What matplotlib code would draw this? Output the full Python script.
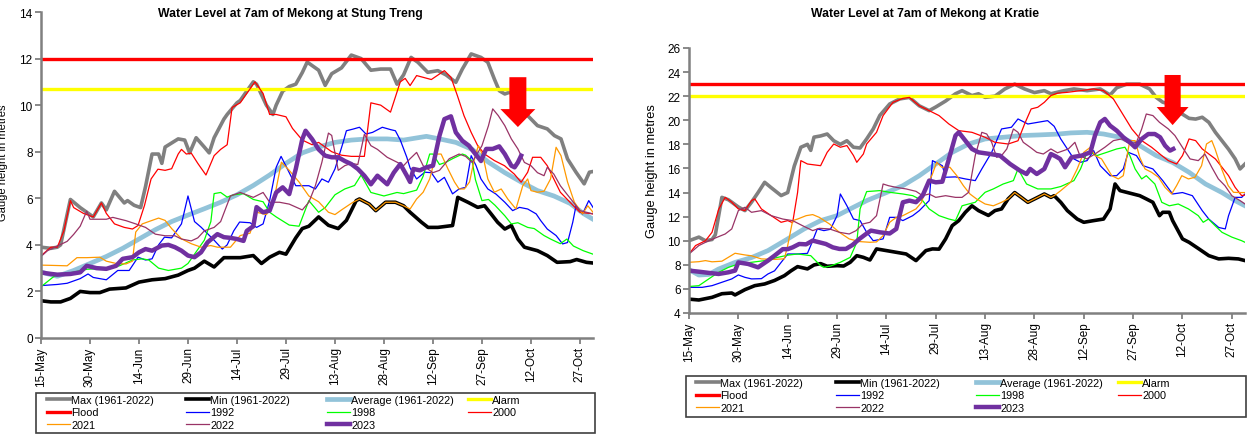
import numpy as np
import matplotlib
matplotlib.use('Agg')
import matplotlib.pyplot as plt
from matplotlib.patches import FancyArrow, Rectangle

plt.rcParams['font.family'] = ['Liberation Sans Narrow', 'Liberation Sans', 'DejaVu Sans']

# x axis: days after 15 May
tick_labels = ['15-May', '30-May', '14-Jun', '29-Jun', '14-Jul', '29-Jul',
               '13-Aug', '28-Aug', '12-Sep', '27-Sep', '12-Oct', '27-Oct']

# ---------------- Stung Treng (day, level) ----------------
st_flood = 12.0
st_alarm = 10.7
st_max = [(0,3.9),(3,3.85),(5,3.9),(6,4.0),(9,5.95),(12,5.6),(16,5.2),(18.5,5.8),(20,5.5),(22.5,6.3),
          (25.5,5.8),(26.5,5.9),(28.5,5.7),(30.5,5.6),(32,6.5),(34,7.9),(36,7.9),(37,7.5),(38,8.2),(42,8.55),
          (44,8.5),(45.5,7.95),(47.5,8.6),(50,8.2),(51.5,7.95),(53,8.6),(56,9.4),(57,9.6),(60,10.1),(61,10.2),
          (63,10.6),(65,11.0),(66,10.9),(69,10.0),(71,9.6),(72,10.0),(74,10.6),(76,10.8),(78,10.9),(80,11.4),
          (81.5,11.85),(83,11.7),(85,11.5),(87,10.85),(89,11.35),(92,11.6),(95,12.15),(98,12.0),(101,11.5),
          (104,11.55),(107,11.55),(109,10.9),(111,11.3),(113.3,12.05),(115.4,11.84),(118.4,11.41),(121.5,11.48),
          (124,11.3),(127,10.98),(129,11.55),(131.7,12.2),(134.7,12.05),(136.8,11.84),(138.8,11.12),(140.3,10.62),
          (142,10.48),(143.4,10.55),(146,10.4),(149,9.55),(152,9.12),(155,8.98),(157.2,8.69),(159.2,8.55),
          (161.2,7.69),(163.8,7.12),(166.3,6.62),(167.9,7.12),(169,7.15)]
st_min = [(0,1.6),(3,1.55),(6,1.55),(9,1.7),(12,2.0),(15,1.95),(18,1.95),(21,2.1),(26,2.15),(30,2.4),
          (34,2.5),(38,2.55),(42,2.7),(45,2.9),(47,3.0),(50,3.3),(53,3.05),(56,3.45),(61,3.45),(65,3.54),
          (67.5,3.2),(70,3.47),(73,3.68),(75,3.6),(78,4.3),(80,4.7),(82,4.8),(85,5.2),(88,4.84),(91,4.7),
          (93.5,5.05),(96.5,5.9),(97.5,5.97),(100.5,5.75),(102.5,5.47),(105.5,5.83),(108.5,5.83),(111,5.68),
          (113,5.4),(116.5,4.97),(118.5,4.75),(121.5,4.75),(126,4.83),(127.6,6.04),(130.7,5.83),(133.7,5.61),
          (135.8,5.68),(137.8,5.33),(139.8,4.97),(142,4.68),(144,4.83),(146,4.25),(148,3.9),(152,3.75),
          (155,3.54),(158,3.25),(162,3.28),(164,3.37),(167,3.25),(169,3.22)]
st_avg = [(0,2.83),(5,2.65),(10,2.9),(15,3.2),(20,3.5),(25,3.85),(30,4.25),(35,4.65),(40,5.0),(45,5.28),
          (50,5.55),(55,5.83),(60,6.15),(65,6.55),(70,7.0),(75,7.5),(80,7.95),(85,8.2),(90,8.4),(95,8.5),
          (100,8.55),(106,8.55),(111,8.5),(118,8.66),(122,8.55),(127,8.4),(132,8.1),(137,7.55),(142,7.1),
          (147,6.7),(152,6.33),(157,6.1),(162,5.78),(166,5.35),(169,5.1)]
st_1992 = [(0,2.25),(5,2.3),(8,2.35),(12,2.55),(14.4,2.75),(16,2.6),(20,2.5),(23.5,2.9),(27,2.9),(29.7,3.47),
           (32,3.35),(34,3.4),(36,4.0),(37.8,4.33),(40,4.3),(43,4.9),(45,6.1),(47,5.0),(49,4.76),(53,4.2),
           (55.5,3.82),(57,4.0),(59,4.6),(60.8,4.98),(64,4.95),(66,4.75),(68,4.9),(70,5.9),(72,7.33),(73.5,7.8),
           (76,7.1),(78,6.54),(82,6.54),(84,6.4),(86,6.83),(88,6.69),(90,7.26),(92.5,8.4),(93.5,8.9),(95.5,8.97),
           (97.5,9.05),(99.5,8.76),(101.5,8.83),(104.5,9.05),(107,8.95),(108.5,8.9),(110,8.5),(112,7.76),(113,7.3),
           (115,6.83),(117.5,7.12),(119.5,7.1),(121.5,6.69),(123.5,6.9),(126,6.19),(128,6.4),(130,6.47),
           (131.7,7.83),(133.2,7.4),(134.7,6.83),(136.8,6.4),(139.3,6.18),(142,5.83),(144.4,5.47),(146.5,5.61),
           (149,5.54),(151.6,5.33),(153,5.04),(155,4.68),(157.7,4.4),(159.7,4.04),(161.2,4.1),(162.8,4.97),
           (163.8,5.68),(165.8,5.33),(167.7,5.9),(169,5.61)]
st_1998 = [(0,2.2),(4,2.65),(9,2.8),(14,2.95),(20,3.0),(24,3.1),(28,3.35),(31,3.4),(33,3.35),(36,3.0),
           (39,2.9),(43,3.0),(45,3.2),(47,3.6),(50,4.2),(52,5.0),(53,6.2),(55,6.25),(57,6.05),(59,6.15),
           (62,6.2),(65,5.95),(68,5.85),(70,5.4),(72,5.2),(76,4.85),(79,4.8),(82,5.9),(85,5.4),(87,5.6),
           (90,6.15),(93,6.4),(96,6.55),(98,7.0),(101,6.25),(105,6.1),(109,6.25),(111,6.2),(115,6.35),
           (117,6.95),(119,7.9),(120,7.9),(122,7.45),(124,7.55),(126,7.7),(129,7.9),(130,7.85),(132,7.6),
           (133,6.8),(135,5.9),(137,5.95),(139,5.7),(142,5.25),(144,4.9),(146,4.95),(149,4.75),(151,4.7),
           (154,4.4),(156,4.25),(159,4.05),(161,4.25),(163,3.95),(166,3.75),(169,3.6)]
st_2000 = [(0,3.53),(3,3.9),(5,3.9),(7,4.6),(9,5.9),(10,5.6),(13,5.35),(16,5.2),(18.5,5.8),(20,5.35),
           (22.5,4.9),(25.5,4.75),(28,4.68),(29.7,4.83),(31.7,5.7),(33.7,6.83),(35.8,7.25),(38,7.2),(40,7.27),
           (42,7.9),(43,8.1),(44.5,7.9),(46,7.94),(48,7.5),(50.5,7.0),(53,7.83),(55,8.1),(57,8.3),(58.5,9.9),
           (61,10.1),(64,10.7),(65.5,11.0),(68,10.5),(70,9.6),(72,9.6),(75,9.5),(77,9.0),(80,8.5),(83,8.3),
           (85,8.4),(89,8.0),(92,7.85),(95,7.8),(99,7.8),(101,10.1),(104,10.0),(107,9.7),(110,11.0),
           (111.5,11.15),(113,10.84),(115,11.27),(119.5,11.1),(123.5,11.48),(125.5,11.2),(127.5,10.4),
           (129.5,9.55),(131.7,8.83),(133.7,8.26),(135.8,7.9),(138.8,7.62),(141.9,7.4),(144.9,7.04),(147,6.69),
           (149,7.12),(150.5,7.76),(153,7.76),(155,7.4),(157,6.83),(159,6.26),(161,5.97),(163,5.68),(165,5.4),
           (169,5.33)]
st_2021 = [(0,3.13),(3,3.12),(8,3.1),(11,3.45),(14,3.45),(18,3.47),(20,3.3),(23,3.2),(26,3.18),(28,3.3),
           (29,4.55),(31,4.9),(34,5.05),(36,5.15),(38,5.05),(40,4.7),(43,4.26),(46,4.05),(49,3.9),(52,3.97),
           (54,3.9),(58,3.9),(61,4.4),(64,4.5),(66,5.4),(69,5.3),(71,5.7),(73.6,7.55),(76,7.2),(79,6.7),
           (82,6.1),(85,5.85),(88,5.4),(90,5.3),(92,5.5),(95.5,5.83),(97.5,5.97),(100.5,5.75),(102.5,5.47),
           (105.5,5.83),(108.5,5.83),(111,5.68),(113,5.54),(115,5.97),(117,6.26),(119,6.83),(121,7.9),
           (122.5,7.9),(124.6,7.26),(126.6,6.7),(128,6.4),(129.6,6.4),(131.2,6.7),(132.7,7.7),(133.9,8.26),
           (135.3,7.83),(136.8,6.83),(138.8,6.26),(140.9,6.4),(142.9,5.97),(145.4,5.54),(147.5,6.54),(149,6.83),
           (150,6.33),(152,6.26),(154,6.3),(156,6.83),(157.7,8.19),(159.2,7.83),(161.2,6.7),(163.3,5.83),
           (165.8,5.33),(167.4,5.68),(169,5.4)]
st_2022 = [(0,3.5),(2,3.75),(5,3.95),(8,4.15),(10,4.45),(12,4.8),(14,5.45),(15,5.1),(20,5.1),(22,5.18),
           (26,5.04),(29,4.9),(32,4.75),(35,4.46),(38,4.39),(41,4.39),(43,4.25),(46,4.17),(48,4.3),(50,4.6),
           (53,4.75),(55,5.0),(58,6.1),(61,6.25),(65,6.04),(68,6.25),(70,5.83),(73,5.83),(76,5.75),(80,5.5),
           (82,5.83),(84,6.54),(86,7.55),(88,8.8),(89,8.7),(91,7.2),(93,7.4),(95,7.5),(97,7.45),(99,8.75),
           (101,8.26),(103,8.1),(106,7.76),(109,7.55),(111,7.4),(113,7.7),(115,7.97),(117,7.4),(120,7.1),
           (122,7.2),(125,7.7),(128,7.9),(130,7.8),(132,7.54),(135,8.26),(137,9.12),(138.3,9.84),(140,9.55),
           (142,9.12),(144,8.55),(146,8.12),(148,7.54),(150,7.4),(152,7.1),(154,6.97),(155,7.33),(157,7.04),
           (159,6.54),(161,6.18),(163,5.83),(165,5.47),(167,5.4),(169,5.33)]
st_2023 = [(0,2.82),(2,2.77),(5,2.72),(9,2.75),(12,2.82),(14,3.1),(17,3.0),(20,2.97),(23,3.1),(25,3.4),
           (28,3.47),(30,3.68),(32,3.82),(34,3.75),(37,3.97),(39,4.0),(41,3.9),(43,3.75),(45,3.54),(47,3.47),
           (49,3.68),(51,4.11),(54,4.46),(56,4.33),(58,4.3),(60,4.25),(62,4.17),(63,4.6),(65,4.8),(66,5.62),
           (68,5.4),(70,5.47),(72,6.25),(74,6.47),(76,6.18),(78,7.26),(80,8.54),(81,8.9),(83,8.54),(85,8.1),
           (87,7.83),(89,7.76),(91,7.76),(93,7.6),(95,7.47),(97,7.26),(99,6.97),(101,6.6),(103,6.97),(106,6.6),
           (108,7.1),(110,7.47),(112,6.97),(113,6.7),(114,7.26),(116,7.2),(118,7.33),(120,7.4),(122,8.69),
           (123.5,9.4),(125.5,9.52),(127,8.83),(129,8.47),(131,8.26),(133,7.9),(134.7,7.6),(136.3,8.12),
           (138.3,8.12),(140.3,8.23),(142,7.9),(144,7.4),(145,7.33),(146,7.54),(147,7.83)]

# ---------------- Kratie (day, level) ----------------
kr_flood = 23.0
kr_alarm = 22.0
kr_max = [(0,10.0),(3,10.3),(5,10.0),(7,10.1),(8,10.5),(10,13.6),(12,13.4),(15,12.8),(17,12.5),(19,13.2),
          (21,14.0),(23,14.85),(25,14.4),(28,13.75),(30,14.0),(32,16.2),(34,17.76),(36,18.0),(37,17.5),(38,18.6),
          (40,18.7),(42,18.86),(44,18.3),(46,18.0),(48,18.3),(50,17.76),(52,17.7),(54,18.45),(56,19.28),(58,20.4),
          (61,21.35),(64,21.77),(67,21.9),(70,21.2),(73,20.8),(75,21.1),(78,21.6),(81,22.2),(83,22.46),(86,22.05),
          (88,22.2),(90,21.9),(93,22.0),(96,22.6),(99,23.0),(102,22.6),(105,22.3),(108,22.46),(110,22.2),
          (114,22.46),(117,22.6),(121,22.46),(125,22.6),(128,22.1),(130,22.7),(133,23.0),(137,23.0),(140,22.6),
          (142,21.9),(144,21.5),(146,21.35),(148,20.9),(150,20.5),(152,20.16),(154,20.1),(156,20.25),(158,19.83),
          (160,19.0),(162,18.3),(164,17.6),(166,16.8),(167.5,15.96),(169,16.37)]
kr_min = [(0,5.15),(3,5.08),(7,5.3),(10,5.6),(13,5.66),(14,5.5),(17,5.94),(20,6.27),(23,6.41),(26,6.7),
          (29,7.1),(31,7.5),(33,7.85),(36,7.66),(38,7.99),(40,8.1),(42,7.88),(45,7.93),(47,7.9),(49,8.21),
          (51,8.76),(53,8.62),(55,8.4),(57,9.32),(60,9.18),(63,9.04),(66,8.9),(69,8.35),(72,9.18),(74,9.32),
          (76,9.3),(78,10.15),(80,11.25),(82,11.67),(84,12.36),(86,12.9),(88,12.5),(91,12.1),(93,12.5),(95,12.64),
          (97,13.47),(99,14.0),(101,13.6),(103,13.19),(106,13.6),(108,13.88),(110,13.6),(111,13.74),(113,13.19),
          (115,12.5),(118,11.8),(120,11.53),(123,11.67),(126,11.8),(128,12.64),(129.5,14.71),(131,14.16),
          (135,13.88),(137,13.74),(139,13.47),(141,13.19),(143,12.08),(144,12.36),(146,12.36),(147,11.67),
          (150,10.15),(152,9.87),(155,9.32),(158,8.76),(161,8.49),(164,8.54),(167,8.49),(169,8.35)]
kr_avg = [(0,7.6),(3,7.15),(6,7.2),(9,7.65),(14,8.2),(19,8.6),(24,9.18),(30,10.15),(35,10.98),(40,11.67),
          (45,12.08),(50,12.78),(54,13.33),(60,14.0),(65,14.57),(70,15.4),(75,16.37),(80,17.34),(85,18.03),
          (90,18.45),(96,18.6),(101,18.73),(106,18.78),(112,18.85),(116,18.95),(121,19.0),(126,18.86),
          (131,18.59),(137,17.9),(142,17.07),(147,16.5),(152,15.68),(157,14.71),(162,14.0),(166,13.33),(169,12.9)]
kr_1992 = [(0,6.13),(4,6.13),(7,6.27),(10,6.55),(13,6.83),(15,7.16),(17,6.96),(19,6.83),(22,6.85),(24,7.24),
           (26,7.5),(28,8.2),(30,8.9),(33,8.9),(36,8.95),(37,9.6),(39,10.98),(41,10.84),(43,10.95),(45,12.08),
           (46,13.88),(48,12.9),(50,11.8),(52,11.67),(54,10.7),(56,10.0),(59,10.15),(61,11.94),(63,11.94),
           (65,11.67),(68,12.08),(70,12.5),(73,13.33),(74,16.65),(75,16.51),(77,16.23),(78,15.27),(81,15.3),
           (84,15.13),(87,14.99),(89,15.96),(92,17.34),(95,19.28),(98,19.42),(100,20.11),(103,19.69),(106,19.83),
           (109,19.97),(111,19.5),(113,18.45),(115,17.62),(117,16.79),(119,16.51),(121,16.65),(123,17.48),
           (125,16.23),(128,15.4),(130,15.4),(132,15.96),(133.5,17.34),(136,17.07),(138,16.23),(141,15.96),
           (144,14.99),(147,13.88),(150,14.0),(153,13.74),(156,12.5),(158,11.8),(161,11.1),(163,10.98),
           (164,12.08),(166,13.6),(168,13.6),(169,13.88)]
kr_1998 = [(0,6.2),(3,6.27),(6,6.83),(9,7.38),(12,7.79),(15,8.07),(19,8.21),(23,8.35),(27,8.62),(30,8.8),
           (33,8.9),(37,8.76),(40,7.93),(41,7.79),(43,7.9),(46,8.21),(49,8.62),(51,9.87),(52,12.64),(54,14.08),
           (58,14.16),(61,14.02),(65,13.88),(68,13.74),(71,13.33),(73,12.64),(76,12.08),(79,11.8),(81,11.67),
           (83,12.9),(85,13.05),(87,13.19),(90,14.02),(92.5,14.3),(95.5,14.71),(98.6,14.99),(100,15.96),
           (102.6,14.71),(106,14.3),(110,14.3),(113,14.5),(117,14.99),(119,15.96),(121,17.34),(122,17.34),
           (124,17.07),(127,17.34),(130,17.62),(132.5,17.76),(134,17.07),(135.6,15.96),(137.6,15.13),(139,15.4),
           (141.6,14.71),(143.7,13.19),(146,12.9),(148.7,13.05),(151.8,12.64),(154.8,12.08),(156.3,11.53),
           (157.9,11.8),(159.9,11.25),(162,10.7),(165,10.3),(168,10.0),(169,9.87)]
kr_2000 = [(0,8.9),(2,9.6),(5,10.0),(7,10.7),(9,12.6),(11,13.6),(13,13.2),(15,12.64),(17,12.5),(19,13.33),
           (20,13.47),(22,12.64),(25,12.08),(28,11.53),(30,11.67),(31.5,11.5),(33,14.0),(34,16.65),(36,16.37),
           (38,16.3),(40,16.23),(42,17.34),(44,18.03),(46,17.76),(48,17.9),(50,17.07),(51,16.51),(53,17.2),
           (54,18.03),(57,19.0),(59,20.39),(62,21.49),(65,21.82),(67,21.9),(70,21.2),(73,20.8),(76,20.39),
           (79,19.69),(82,19.14),(86,19.0),(90,18.59),(93,18.17),(97,18.03),(100,18.3),(102,19.69),(104,20.94),
           (106,21.08),(108,21.49),(110,22.05),(112,22.25),(115,22.32),(119,22.46),(123,22.6),(126,22.46),
           (129,21.77),(131.5,20.66),(134.6,19.28),(137.6,18.31),(140.6,17.76),(143.7,17.07),(145.7,16.65),
           (148.2,16.37),(150,17.07),(152,18.45),(154,18.31),(156,17.62),(158,17.2),(160,16.79),(162,16.1),
           (164,15.4),(166,14.43),(168,13.74),(169,13.8)]
kr_2021 = [(0,8.21),(3,8.26),(5,8.35),(7,8.25),(10,8.3),(14,8.96),(17,8.82),(19,8.75),(22,8.49),(26,8.45),
           (29,8.5),(30,9.6),(31.5,11.67),(33,11.8),(35.6,12.08),(37.6,12.17),(39.6,11.94),(42.7,11.39),
           (45.7,10.7),(48.7,10.15),(51.8,9.93),(55,9.87),(57,9.9),(59,10.42),(61,11.53),(63,11.94),(65,12.08),
           (67,12.36),(69,12.64),(70.7,13.19),(72.2,14.57),(73.8,15.4),(75.3,16.51),(76.8,16.1),(79.3,16.1),
           (81.4,15.4),(83.4,14.57),(85.4,13.88),(87.4,13.47),(90,13.05),(92.5,12.9),(95,13.19),(97,13.47),
           (99,14.0),(101,13.6),(103,13.19),(106,13.6),(108,13.88),(110,13.6),(111,13.74),(113,14.16),
           (116,14.85),(118,15.96),(120,17.34),(122,17.76),(123.4,17.07),(125.4,16.79),(128.5,15.4),
           (130.5,15.13),(132,15.4),(134,18.31),(135.6,18.31),(137,16.93),(138.6,15.96),(140.6,15.68),
           (142.7,15.27),(144.7,14.43),(146.7,13.88),(148.2,14.57),(149.8,15.4),(151.8,15.13),(153.8,15.27),
           (155.8,16.23),(157.3,18.03),(158.9,18.31),(159.9,17.62),(161.9,15.96),(163.9,14.57),(165.5,14.02),
           (167.5,14.0),(169,14.0)]
kr_2022 = [(0,8.9),(3,9.6),(6,10.0),(9,10.34),(11,10.56),(13,10.98),(15,12.5),(17,12.78),(19,12.36),(22,12.5),
           (25,12.08),(28.5,11.8),(31.5,11.67),(34.5,11.25),(37.6,10.84),(39.6,11.03),(42.7,10.98),(45.7,10.7),
           (48.7,10.56),(50.8,10.84),(52.8,11.39),(55,11.53),(57,12.08),(59,14.71),(60.6,14.57),(63,14.43),
           (66,14.3),(69,14.1),(71,13.74),(73,13.88),(75,13.6),(78,13.74),(81,13.6),(83,13.6),(85,14.02),
           (87,17.07),(89,19.0),(90.5,18.86),(92,18.17),(93.5,16.93),(95,17.07),(96.6,17.62),(98.6,19.28),
           (100,19.0),(101.6,18.17),(103.7,17.76),(105.7,17.34),(107.7,17.2),(110,17.62),(112,17.3),(115.3,17.62),
           (117.3,18.17),(118.8,17.07),(120.9,16.79),(123.4,17.2),(126.4,17.76),(129,18.31),(131.5,18.45),
           (134,18.03),(136,18.17),(137.6,19.28),(139,20.52),(141,20.39),(143,19.83),(145.7,19.28),(147.7,18.73),
           (150.3,17.62),(152.3,16.79),(154.8,16.65),(156.8,17.2),(158.9,16.1),(160.9,15.13),(162.9,14.57),
           (165,13.74),(167.5,13.33),(169,13.05)]
kr_2023 = [(0,7.52),(3,7.43),(6,7.33),(9,7.24),(12,7.38),(14,7.52),(15,8.2),(18,8.07),(21,7.79),(24,8.35),
           (26,8.76),(28.5,9.3),(30,9.3),(31.5,9.45),(33.5,9.73),(35.6,9.7),(37.6,10.01),(39.6,9.87),(41.6,9.73),
           (43.7,9.45),(45.7,9.32),(47.7,9.32),(49.7,9.65),(51.8,10.15),(53.8,10.56),(55.3,10.84),(58,10.7),
           (61,10.6),(63,10.98),(65,13.19),(67,13.33),(69,13.2),(71,13.74),(73,14.99),(75,14.85),(77,14.9),
           (79,16.79),(81,18.73),(82,19.0),(84,18.31),(86,17.62),(88,17.34),(91.5,17.2),(94.5,17.07),(97.6,16.37),
           (100.6,15.82),(102.6,15.54),(103.7,15.96),(105.7,15.54),(108,15.96),(110,17.2),(111.5,17.0),
           (112.8,16.79),(114.3,16.1),(116.3,16.93),(119.4,17.07),(122,17.34),(123.4,18.73),(125,19.83),
           (126.4,20.11),(128,19.55),(130,19.14),(132,18.59),(134,18.17),(135.6,17.76),(137.6,18.45),
           (139.6,18.86),(141.6,18.86),(143.2,18.59),(144.7,17.9),(146.2,17.48),(147.2,17.62)]

names = ['Max (1961-2022)', 'Min (1961-2022)', 'Average (1961-2022)', 'Alarm', 'Flood',
         '1992', '1998', '2000', '2021', '2022', '2023']
colors = ['#808080', '#000000', '#92c3d9', '#ffff00', '#ff0000',
          '#0000ff', '#00ff00', '#ff0000', '#ff9900', '#993366', '#7030a0']
widths = [2.6, 2.6, 3.4, 2.4, 2.4, 0.9, 0.9, 0.9, 0.9, 0.9, 3.2]

GREY = '#808080'
W, H = 1248, 435


def panel(rect, series, alarm, flood, ylim, title, title_x, arrow, box, cols, ylab):
    ax = fig.add_axes([rect[0] / W, 1 - rect[3] / H, (rect[2] - rect[0]) / W, (rect[3] - rect[1]) / H])
    handles = []
    for i, name in enumerate(names):
        if name == 'Alarm':
            h = ax.axhline(alarm, color=colors[i], lw=widths[i])
        elif name == 'Flood':
            h = ax.axhline(flood, color=colors[i], lw=widths[i])
        else:
            d, v = np.array(series[name]).T
            h, = ax.plot(d, v, color=colors[i], lw=widths[i], solid_joinstyle='round')
        handles.append(h)

    x, ytop, ybot, w, hw, hl = arrow
    ax.add_patch(FancyArrow(x, ytop, 0, ybot - ytop, width=w, head_width=hw, head_length=hl,
                            length_includes_head=True, color='#ff0000', lw=0, zorder=5))

    ax.set_xlim(0, 169)
    ax.set_ylim(*ylim)
    ax.set_yticks(np.arange(ylim[0], ylim[1] + 1, 2))
    ax.set_xticks(np.arange(0, 166, 15))
    ax.set_xticklabels(tick_labels, rotation=90)
    ax.tick_params(axis='both', labelsize=8.5, color=GREY, width=1.3, length=4, pad=2)
    for s in ['top', 'right']:
        ax.spines[s].set_visible(False)
    for s in ['left', 'bottom']:
        ax.spines[s].set_color(GREY)
        ax.spines[s].set_linewidth(1.8)
    lab_size, lab_x, lab_y = ylab
    ax.set_ylabel('Gauge height in metres', fontsize=lab_size)
    ax.yaxis.set_label_coords((lab_x - rect[0]) / (rect[2] - rect[0]), (rect[3] - lab_y) / (rect[3] - rect[1]))
    fig.text(title_x / W, 1 - 14 / H, title, ha='center', va='center', fontsize=8.8, fontweight='bold')

    # legend: frame plus one frameless legend per column (excel fills row by row)
    bx0, by0, bx1, by1 = box
    fig.patches.append(Rectangle((bx0 / W, 1 - by1 / H), (bx1 - bx0) / W, (by1 - by0) / H,
                                 transform=fig.transFigure, fill=False, edgecolor='#404040', lw=1.2))
    for c, cx in enumerate(cols):
        idx = list(range(c, len(names), 4))
        fig.legend([handles[i] for i in idx], [names[i] for i in idx], loc='upper left',
                   bbox_to_anchor=(cx / W, 1 - (by0 + 2) / H), bbox_transform=fig.transFigure,
                   frameon=False, fontsize=7.8, borderpad=0, borderaxespad=0, handlelength=2.1,
                   handletextpad=0.15, labelspacing=0.22)
    return ax


fig = plt.figure(figsize=(W / 100, H / 100), dpi=100)

st_series = {'Max (1961-2022)': st_max, 'Min (1961-2022)': st_min, 'Average (1961-2022)': st_avg,
             '1992': st_1992, '1998': st_1998, '2000': st_2000, '2021': st_2021, '2022': st_2022, '2023': st_2023}
kr_series = {'Max (1961-2022)': kr_max, 'Min (1961-2022)': kr_min, 'Average (1961-2022)': kr_avg,
             '1992': kr_1992, '1998': kr_1998, '2000': kr_2000, '2021': kr_2021, '2022': kr_2022, '2023': kr_2023}

panel((41, 13, 593, 339), st_series, st_alarm, st_flood, (0, 14),
      'Water Level at 7am of Mekong at Stung Treng', 290,
      (146, 11.2, 9.06, 5.2, 10.7, 0.77), (36, 394, 595, 434), (47, 186, 327, 468), (8, 8, 163))
panel((689, 49, 1245, 314), kr_series, kr_alarm, kr_flood, (4, 26),
      'Water Level at 7am of Mekong at Kratie', 925,
      (147, 23.76, 19.6, 4.9, 9.7, 1.5), (686, 377, 1246, 418), (696, 836, 976, 1118), (9.3, 658, 171))

fig.savefig('out.png', dpi=100)
